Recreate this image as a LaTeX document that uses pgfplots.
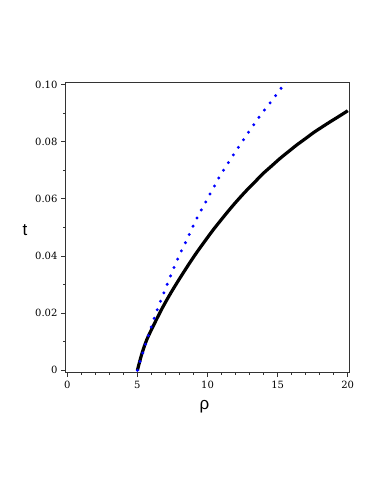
\documentclass[border=0pt]{standalone}
\usepackage{fontspec}
\setmainfont{DejaVu Serif}
\newfontfamily\labfont{Liberation Sans}
\usepackage{pgfplots}
\pgfplotsset{compat=1.18}
\begin{document}
\begin{tikzpicture}[x=1pt,y=1pt]
\path[use as bounding box] (0,0) rectangle (382,494);
\begin{axis}[
  at={(65.5pt,121.7pt)}, anchor=south west,
  scale only axis, width=283.5pt, height=289.6pt,
  xmin=-0.128, xmax=20.09, ymin=-0.0007, ymax=0.1006,
  xtick={0,5,10,15,20}, minor x tick num=4,
  ytick={0,0.02,0.04,0.06,0.08,0.1},
  yticklabels={0,0.02,0.04,0.06,0.08,0.10},
  minor y tick num=1,
  xtick pos=bottom, ytick pos=left,
  tick align=outside,
  major tick length=4.5pt, minor tick length=2.5pt,
  axis line style={line width=0.8pt, black!80},
  every tick/.style={black!80, line width=0.6pt},
  /pgf/number format/assume math mode=true,
  tick label style={font=\fontsize{10}{12}\selectfont},
  xticklabel style={yshift=-1pt},
  xlabel={\labfont ρ}, ylabel={\labfont t},
  xlabel style={at={(axis description cs:0.49,-0.12)}, anchor=center, font=\fontsize{17}{18}\selectfont},
  ylabel style={at={(axis description cs:-0.143,0.491)}, anchor=center, rotate=-90, font=\fontsize{17}{18}\selectfont},
  clip=true,
]
\addplot[black, line width=3.2pt, smooth] coordinates {
(5,0) (5.3,0.0055) (5.66,0.0106) (6.2,0.0162) (6.8,0.0220) (7.4,0.0272) (8.0,0.0320)
(8.6,0.0366) (9.2,0.0410) (9.8,0.0451) (10.4,0.0491) (11.0,0.0528) (11.6,0.0564)
(12.2,0.0598) (12.8,0.0630) (13.4,0.0660) (13.98,0.0689) (14.6,0.0716) (15.17,0.0741)
(15.8,0.0766) (16.36,0.0788) (17.0,0.0811) (17.55,0.0831) (18.2,0.0852) (18.74,0.0869)
(19.3,0.0886) (19.88,0.0904) (20,0.0908)
};
\addplot[blue, line width=3.3pt, line cap=round, dash pattern=on 0pt off 9.1pt, smooth] coordinates {
(5,0) (5.26,0.0042) (5.66,0.0103) (6.06,0.0162) (6.49,0.0222) (6.97,0.0281) (7.45,0.0341)
(7.97,0.0400) (8.52,0.0456) (9.06,0.0514) (9.66,0.0570) (10.3,0.0627) (10.89,0.0680)
(11.6,0.0735) (12.32,0.0789) (13.03,0.0840) (13.79,0.0893) (14.58,0.0943) (15.36,0.0994) (15.7,0.1016)
};
\end{axis}
\end{tikzpicture}
\end{document}
